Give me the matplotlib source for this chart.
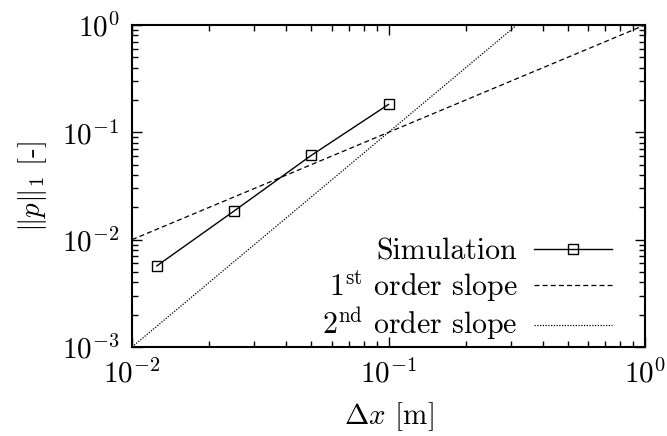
import numpy as np
import matplotlib
matplotlib.use("Agg")
import matplotlib.pyplot as plt
from matplotlib.ticker import LogLocator, NullFormatter

plt.rcParams['font.family'] = 'serif'
plt.rcParams['font.serif'] = ['cmr10', 'DejaVu Serif']
plt.rcParams['mathtext.fontset'] = 'cm'
plt.rcParams['axes.formatter.use_mathtext'] = True
plt.rcParams['axes.unicode_minus'] = False

dx = [0.0125, 0.025, 0.05, 0.1]
err = [0.0057, 0.0185, 0.061, 0.182]
ref_x = [0.01, 1.0]
first_order = [0.01, 1.0]
ref2_x = [0.01, 1.0]
second_order = [0.001, 10.0]

fig = plt.figure(figsize=(6.67, 4.36), dpi=100)
ax = fig.add_axes([132/667, 1-347/436, (645-132)/667, (347-25)/436])

ax.plot(dx, err, '-', color='black', lw=1.0, marker='s', ms=7, mfc='none', mec='black', mew=1.0,
        label='Simulation')
ax.plot(ref_x, first_order, '--', color='black', lw=0.9, dashes=(4, 2.5), label=r'1$^{\rm st}$ order slope')
ax.plot(ref2_x, second_order, ':', color='black', lw=0.9, dashes=(1, 1.2), label=r'2$^{\rm nd}$ order slope')

ax.set_xscale('log')
ax.set_yscale('log')
ax.set_xlim(1e-2, 1e0)
ax.set_ylim(1e-3, 1e0)

for s in ax.spines.values():
    s.set_linewidth(1.5)

ax.tick_params(which='both', direction='in', top=True, right=True, labelsize=21, pad=9)
ax.tick_params(which='major', length=7, width=1.0)
ax.tick_params(which='minor', length=4, width=1.0)
ax.xaxis.set_minor_locator(LogLocator(base=10, subs=np.arange(2, 10)))
ax.yaxis.set_minor_locator(LogLocator(base=10, subs=np.arange(2, 10)))
ax.xaxis.set_minor_formatter(NullFormatter())
ax.yaxis.set_minor_formatter(NullFormatter())

ax.set_xlabel(r'$\Delta x$ [m]', fontsize=21, labelpad=8)
ax.set_ylabel(r'$\|p\|_1$ [-]', fontsize=21, labelpad=9)

leg = ax.legend(loc='lower right', frameon=False, markerfirst=False, fontsize=21.5,
                handlelength=2.6, handletextpad=0.55, labelspacing=0.08,
                borderaxespad=0.0, bbox_to_anchor=(0.958, -0.025))

fig.savefig('out.png', dpi=100)
